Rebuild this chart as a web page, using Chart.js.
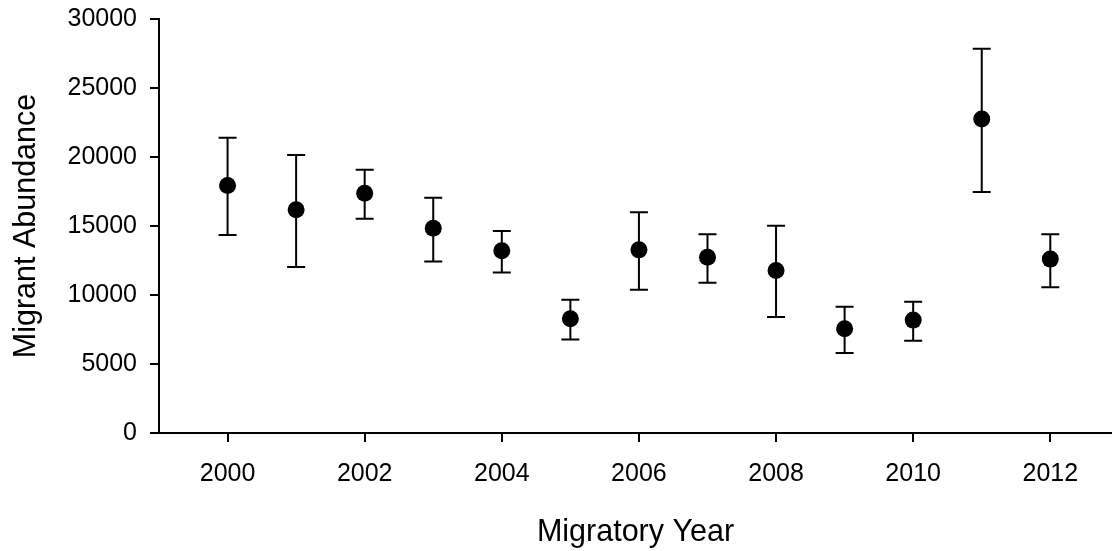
<!DOCTYPE html>
<html>
<head>
<meta charset="utf-8">
<script src="https://cdn.jsdelivr.net/npm/chart.js@4.4.1/dist/chart.umd.min.js"></script>
<style>
  html, body { margin: 0; padding: 0; background: #fff; }
  #wrap { width: 1112px; height: 551px; }
</style>
</head>
<body>
<div id="wrap"><canvas id="chart" width="1112" height="551"></canvas></div>
<script>
//Dados
const years = [2000, 2001, 2002, 2003, 2004, 2005, 2006, 2007, 2008, 2009, 2010, 2011, 2012];
const abundance = [17930, 16170, 17380, 14840, 13200, 8280, 13270, 12740, 11780, 7550, 8180, 22760, 12600];
const upperBound = [21400, 20150, 19070, 17040, 14630, 9650, 16000, 14410, 15010, 9150, 9510, 27850, 14410];
const lowerBound = [14340, 12020, 15520, 12430, 11630, 6780, 10380, 10880, 8400, 5790, 6680, 17470, 10570];

//Marcas dos eixos
const xTicks = [2000, 2002, 2004, 2006, 2008, 2010, 2012];
const yTicks = [0, 5000, 10000, 15000, 20000, 25000, 30000];

const fontFamily = '"Liberation Sans", Arial, Helvetica, sans-serif';

//Plugin para desenhar as barras de erro antes dos pontos
const errorBarPlugin = {
  id: 'errorBars',
  beforeDatasetsDraw(chart, args, options) {
    const xScale = chart.scales.x;
    const yScale = chart.scales.y;
    const ctx = chart.ctx;
    const half = (options.capWidth || 18) / 2;

    ctx.save();
    ctx.strokeStyle = options.color || '#000';
    ctx.lineWidth = options.width || 2;

    years.forEach((yr, i) => {
      const x = xScale.getPixelForValue(yr);
      const yTop = yScale.getPixelForValue(upperBound[i]);
      const yBot = yScale.getPixelForValue(lowerBound[i]);
      ctx.beginPath();
      ctx.moveTo(x, yTop);
      ctx.lineTo(x, yBot);
      ctx.moveTo(x - half, yTop);
      ctx.lineTo(x + half, yTop);
      ctx.moveTo(x - half, yBot);
      ctx.lineTo(x + half, yBot);
      ctx.stroke();
    });
    ctx.restore();
  }
};

Chart.register(errorBarPlugin);

const points = years.map((yr, i) => ({ x: yr, y: abundance[i] }));

new Chart(document.getElementById('chart').getContext('2d'), {
  type: 'scatter',
  data: {
    datasets: [
      {
        label: 'Migrant Abundance',
        data: points,
        pointRadius: 8.5,
        pointBackgroundColor: '#000',
        pointBorderColor: '#000',
        pointBorderWidth: 0
      }
    ]
  },
  options: {
    responsive: false,
    animation: false,
    layout: { autoPadding: false, padding: { top: 19, right: 0, bottom: 0, left: 0 } },
    plugins: {
      legend: { display: false },
      tooltip: { enabled: false },
      errorBars: { color: '#000', width: 2, capWidth: 18 }
    },
    scales: {
      x: {
        type: 'linear',
        min: 1999,
        max: 2012.9,
        afterBuildTicks: axis => { axis.ticks = xTicks.map(v => ({ value: v })); },
        afterFit: axis => {
          axis.height = 118;
          axis.paddingLeft = 0;
          axis.paddingRight = 0;
        },
        grid: { drawOnChartArea: false, drawTicks: true, tickLength: 9, color: '#000', lineWidth: 2 },
        border: { display: true, color: '#000', width: 2 },
        ticks: {
          color: '#000',
          padding: 17,
          maxRotation: 0,
          font: { family: fontFamily, size: 25 },
          callback: v => String(v)
        },
        title: {
          display: true,
          text: 'Migratory Year',
          color: '#000',
          font: { family: fontFamily, size: 30.5 },
          padding: { top: 0, bottom: 0 }
        }
      },
      y: {
        min: 0,
        max: 30000,
        afterBuildTicks: axis => { axis.ticks = yTicks.map(v => ({ value: v })); },
        afterFit: axis => {
          axis.width = 159;
          axis.paddingTop = 0;
          axis.paddingBottom = 0;
        },
        grid: { drawOnChartArea: false, drawTicks: true, tickLength: 9, color: '#000', lineWidth: 2 },
        border: { display: true, color: '#000', width: 2 },
        ticks: {
          color: '#000',
          padding: 13,
          font: { family: fontFamily, size: 25 },
          callback: v => String(v)
        },
        title: {
          display: true,
          text: 'Migrant Abundance',
          color: '#000',
          font: { family: fontFamily, size: 30.5 },
          padding: { top: 8, bottom: 0 }
        }
      }
    }
  }
});
</script>
</body>
</html>
